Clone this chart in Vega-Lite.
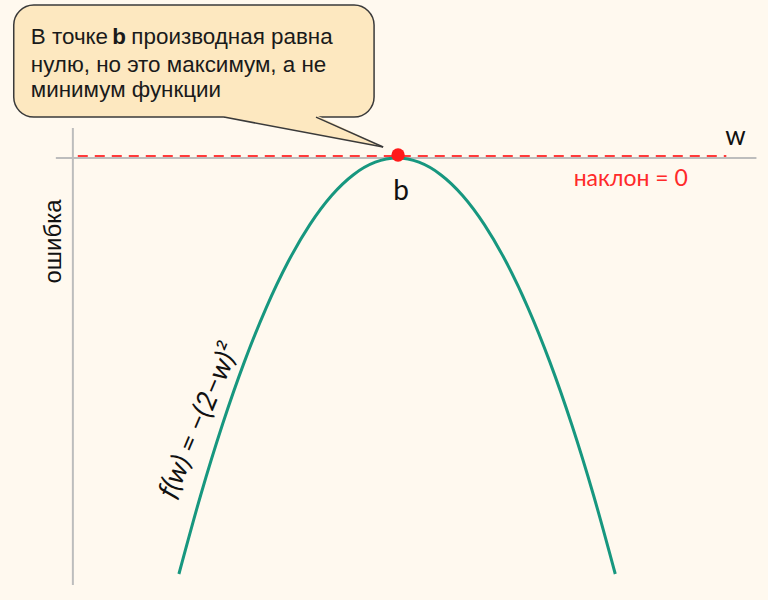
{
  "$schema": "https://vega.github.io/schema/vega-lite/v6.json",
  "width": 768,
  "height": 600,
  "autosize": {"type": "fit", "contains": "padding"},
  "padding": 0,
  "background": "#fff9ef",
  "config": {"view": {"stroke": null}},
  "encoding": {
    "x": {"field": "w", "type": "quantitative", "scale": {"domain": [-1.64, 5.4], "nice": false, "zero": false}, "axis": null},
    "y": {"field": "f", "type": "quantitative", "scale": {"domain": [-4.25, 1.52], "nice": false, "zero": false}, "axis": null}
  },
  "layer": [
    {
      "data": {"values": [{"w": -1.514, "w2": 1.789, "f": 1.471, "f2": 0.394}]},
      "mark": {"type": "rect", "cornerRadius": 20, "fill": "#fde8c0", "stroke": "#3a3a3a", "strokeWidth": 1.5},
      "encoding": {"x2": {"field": "w2"}, "y2": {"field": "f2"}}
    },
    {
      "data": {"values": [
        {"w": 0.413, "f": 0.413, "f2": 0.394},
        {"w": 1.257, "f": 0.413, "f2": 0.227},
        {"w": 1.872, "f": 0.106, "f2": 0.106}
      ]},
      "mark": {"type": "area", "fill": "#fde8c0", "opacity": 1},
      "encoding": {"y2": {"field": "f2"}}
    },
    {
      "data": {"values": [
        {"edge": "a", "w": 0.413, "f": 0.394},
        {"edge": "a", "w": 1.872, "f": 0.106},
        {"edge": "b", "w": 1.257, "f": 0.394},
        {"edge": "b", "w": 1.872, "f": 0.106}
      ]},
      "mark": {"type": "line", "color": "#3a3a3a", "strokeWidth": 1.5},
      "encoding": {"detail": {"field": "edge"}}
    },
    {
      "data": {"values": [{"w": -0.972, "f": 0.288, "f2": -4.106}]},
      "mark": {"type": "rule", "color": "#bdbdbd", "strokeWidth": 2},
      "encoding": {"y2": {"field": "f2"}}
    },
    {
      "data": {"values": [{"w": -1.128, "w2": 5.294, "f": 0}]},
      "mark": {"type": "rule", "color": "#bdbdbd", "strokeWidth": 2},
      "encoding": {"x2": {"field": "w2"}}
    },
    {
      "data": {"values": [{"w": -0.927, "w2": 5.018, "f": 0.019}]},
      "mark": {"type": "rule", "color": "#ff3b3b", "strokeWidth": 2, "strokeDash": [10, 7]},
      "encoding": {"x2": {"field": "w2"}}
    },
    {
      "data": {"values": [
        {"w": 0, "f": -4}, {"w": 0.2, "f": -3.24}, {"w": 0.4, "f": -2.56}, {"w": 0.6, "f": -1.96},
        {"w": 0.8, "f": -1.44}, {"w": 1.0, "f": -1}, {"w": 1.2, "f": -0.64}, {"w": 1.4, "f": -0.36},
        {"w": 1.6, "f": -0.16}, {"w": 1.8, "f": -0.04}, {"w": 2.0, "f": 0}, {"w": 2.2, "f": -0.04},
        {"w": 2.4, "f": -0.16}, {"w": 2.6, "f": -0.36}, {"w": 2.8, "f": -0.64}, {"w": 3.0, "f": -1},
        {"w": 3.2, "f": -1.44}, {"w": 3.4, "f": -1.96}, {"w": 3.6, "f": -2.56}, {"w": 3.8, "f": -3.24},
        {"w": 4.0, "f": -4}
      ]},
      "mark": {"type": "line", "color": "#17977f", "strokeWidth": 3, "interpolate": "monotone"},
      "encoding": {}
    },
    {
      "data": {"values": [{"w": 2.009, "f": 0.029}]},
      "mark": {"type": "point", "shape": "circle", "filled": true, "color": "#ff1a1a", "opacity": 1, "size": 180}
    },
    {
      "data": {"values": [
        {"w": -1.358, "f": 1.096, "t": "В точке"},
        {"w": -0.436, "f": 1.096, "t": "производная равна"},
        {"w": -1.358, "f": 0.827, "t": "нулю, но это максимум, а не"},
        {"w": -1.358, "f": 0.587, "t": "минимум функции"}
      ]},
      "mark": {"type": "text", "align": "left", "baseline": "alphabetic", "font": "Liberation Sans", "fontSize": 22.4, "color": "#1a1a1a"},
      "encoding": {"text": {"field": "t"}}
    },
    {
      "data": {"values": [{"w": -0.612, "f": 1.096, "t": "b"}]},
      "mark": {"type": "text", "align": "left", "baseline": "alphabetic", "font": "Liberation Sans", "fontSize": 22.4, "fontWeight": "bold", "color": "#1a1a1a"},
      "encoding": {"text": {"field": "t"}}
    },
    {
      "data": {"values": [{"w": 2.037, "f": -0.404, "t": "b"}]},
      "mark": {"type": "text", "align": "center", "baseline": "alphabetic", "font": "Lato", "fontSize": 28, "color": "#111111"},
      "encoding": {"text": {"field": "t"}}
    },
    {
      "data": {"values": [{"w": 5.101, "f": 0.125, "t": "w"}]},
      "mark": {"type": "text", "align": "center", "baseline": "alphabetic", "font": "Lato", "fontSize": 26, "color": "#111111"},
      "encoding": {"text": {"field": "t"}}
    },
    {
      "data": {"values": [{"w": 4.142, "f": -0.269, "t": "наклон = 0"}]},
      "mark": {"type": "text", "align": "center", "baseline": "alphabetic", "font": "Lato", "fontSize": 23, "color": "#ff2a2a"},
      "encoding": {"text": {"field": "t"}}
    },
    {
      "data": {"values": [{"w": -1.083, "f": -0.803, "t": "ошибка"}]},
      "mark": {"type": "text", "align": "center", "baseline": "alphabetic", "angle": 270, "font": "Liberation Sans", "fontSize": 24, "color": "#111111"},
      "encoding": {"text": {"field": "t"}}
    },
    {
      "data": {"values": [{"w": 0.19, "f": -2.53, "t": "f(w) = −(2−w)²"}]},
      "mark": {"type": "text", "align": "center", "baseline": "middle", "angle": 293, "font": "Lato", "fontStyle": "italic", "fontSize": 28, "color": "#111111"},
      "encoding": {"text": {"field": "t"}}
    }
  ]
}
